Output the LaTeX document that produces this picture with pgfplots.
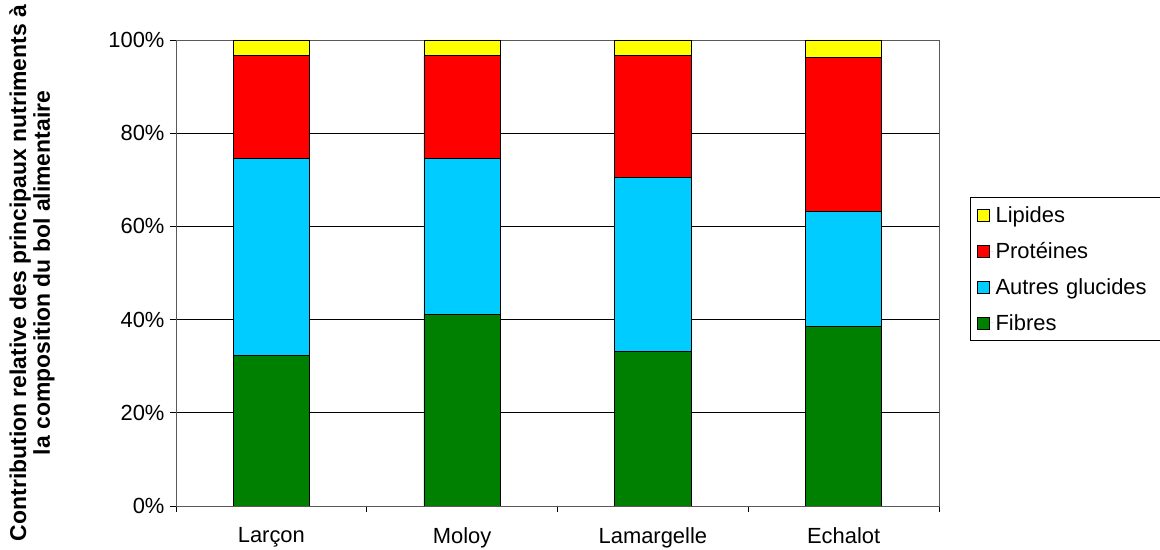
\documentclass[border=0pt]{standalone}
\usepackage{pgfplots}
\pgfplotsset{compat=1.18}
\usepackage{fontspec}
\setmainfont{Liberation Sans}
\definecolor{cLip}{HTML}{FFFF00}
\definecolor{cPro}{HTML}{FF0000}
\definecolor{cAut}{HTML}{00CCFF}
\definecolor{cFib}{HTML}{008000}
\begin{document}
\begin{tikzpicture}
\useasboundingbox (0,0) rectangle (1160bp,550bp);
\begin{axis}[
  at={(176bp,44bp)}, anchor=south west,
  scale only axis, width=763bp, height=466bp,
  ybar stacked, bar width=0.4,
  xmin=-0.5, xmax=3.5, ymin=0, ymax=100,
  xtick={0,1,2,3},
  xticklabels={Larçon,Moloy,Lamargelle,Echalot},
  minor xtick={-0.5,0.5,1.5,2.5,3.5},
  major x tick style={draw=none},
  minor tick length=6bp, major tick length=6bp,
  tick align=outside, tick pos=left,
  ytick={0,20,40,60,80,100},
  yticklabel={\pgfmathprintnumber{\tick}\%},
  /pgf/number format/assume math mode=true,
  ymajorgrids, grid style={black, line width=0.6pt},
  tick style={black, line width=0.6pt},
  axis line style={draw=gray!70!black, line width=0.8pt},
  ticklabel style={font=\fontsize{22}{24}\selectfont},
  xticklabel style={yshift=-12bp},
  yticklabel style={xshift=-2bp},
  ylabel={Contribution relative des principaux nutriments à\\la composition du bol alimentaire},
  ylabel style={font=\fontsize{23}{24}\bfseries, align=center, at={(axis description cs:0,0.5)}, yshift=144bp, anchor=center},
  reverse legend,
  legend style={at={(1.0406,0.663)}, anchor=north west, draw=black, line width=0.6pt,
    font=\fontsize{22}{24}\selectfont, row sep=14.5bp, inner xsep=7bp, inner ysep=7bp,
    cells={anchor=west, text width=165bp}},
  legend image code/.code={\path[draw=none] (0bp,0bp) -- (16bp,0bp);\draw[#1, line width=0.6pt] (0bp,-6bp) rectangle (12bp,6bp);},
  every axis plot/.append style={draw=black, line width=0.8pt},
]
\addplot[fill=cFib] coordinates {(0,32.4) (1,41.1) (2,33.1) (3,38.5)};
\addplot[fill=cAut] coordinates {(0,42.2) (1,33.5) (2,37.4) (3,24.7)};
\addplot[fill=cPro] coordinates {(0,22.0) (1,22.0) (2,26.1) (3,33.1)};
\addplot[fill=cLip] coordinates {(0,3.4) (1,3.4) (2,3.4) (3,3.7)};
\legend{Fibres,Autres glucides,Protéines,Lipides}
\end{axis}
\end{tikzpicture}
\end{document}
